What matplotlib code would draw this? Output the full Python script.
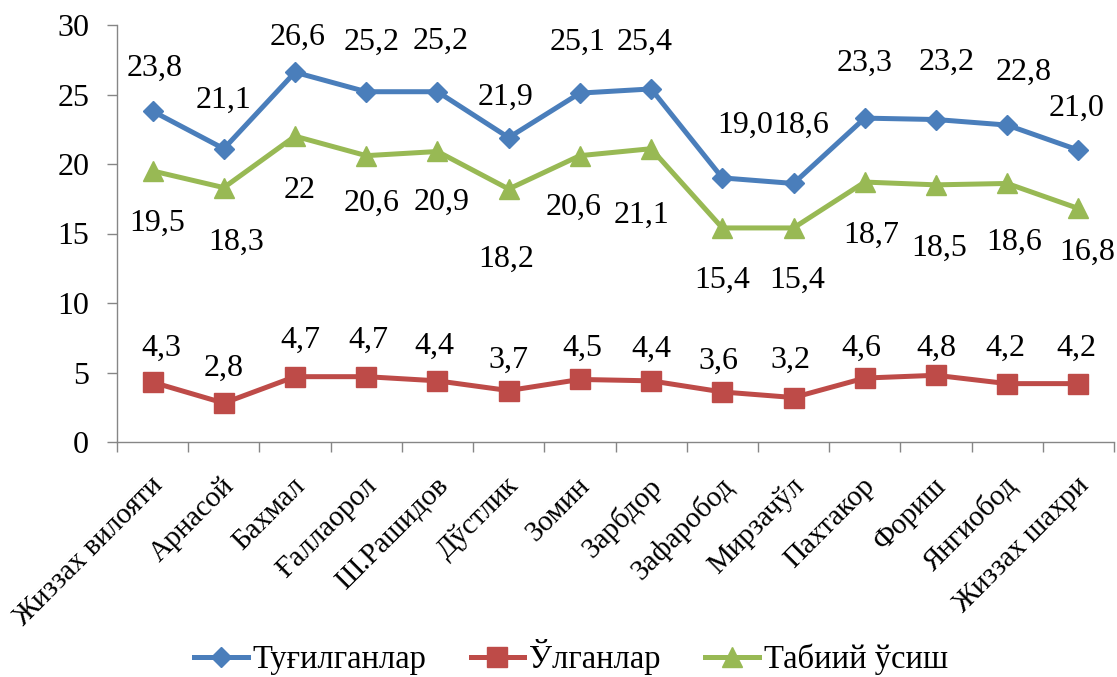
import matplotlib
matplotlib.use("Agg")
import matplotlib.pyplot as plt
import matplotlib.transforms as mtransforms
import numpy as np

categories = ["Жиззах вилояти", "Арнасой", "Бахмал", "Ғаллаорол", "Ш.Рашидов",
              "Дўстлик", "Зомин", "Зарбдор", "Зафаробод", "Мирзачўл",
              "Пахтакор", "Фориш", "Янгиобод", "Жиззах шахри"]
births = [23.8, 21.1, 26.6, 25.2, 25.2, 21.9, 25.1, 25.4, 19.0, 18.6, 23.3, 23.2, 22.8, 21.0]
deaths = [4.3, 2.8, 4.7, 4.7, 4.4, 3.7, 4.5, 4.4, 3.6, 3.2, 4.6, 4.8, 4.2, 4.2]
growth = [19.5, 18.3, 22, 20.6, 20.9, 18.2, 20.6, 21.1, 15.4, 15.4, 18.7, 18.5, 18.6, 16.8]
births_text = ["23,8", "21,1", "26,6", "25,2", "25,2", "21,9", "25,1", "25,4", "19,0", "18,6", "23,3", "23,2", "22,8", "21,0"]
deaths_text = ["4,3", "2,8", "4,7", "4,7", "4,4", "3,7", "4,5", "4,4", "3,6", "3,2", "4,6", "4,8", "4,2", "4,2"]
growth_text = ["19,5", "18,3", "22", "20,6", "20,9", "18,2", "20,6", "21,1", "15,4", "15,4", "18,7", "18,5", "18,6", "16,8"]
series_names = ["Туғилганлар", "Ўлганлар", "Табиий ўсиш"]
y_ticks = [0, 5, 10, 15, 20, 25, 30]

# label offsets in pixels (dx, dy up)
births_off = [(2, 43), (0, 48), (3, 35), (5, 49), (3, 50), (-3, 40), (-2, 51), (-6, 47),
              (23, 53), (8, 58), (0, 55), (11, 57), (16, 53), (-2, 42)]
growth_off = [(5, -52), (12, -55), (5, -54), (5, -48), (4, -51), (-2, -70), (-6, -52), (-10, -67),
              (0, -52), (4, -52), (6, -53), (3, -63), (7, -59), (9, -44)]
deaths_off = [(9, 34), (0, 35), (5, 36), (2, 36), (-3, 35), (0, 30), (2, 31), (0, 32),
              (-4, 31), (-3, 37), (-3, 30), (0, 27), (-2, 35), (-2, 35)]

plt.rcParams['font.family'] = ['Liberation Serif', 'DejaVu Serif']

fig = plt.figure(figsize=(11.17, 6.77), dpi=100)
ax = fig.add_axes([117/1117, 1-442/677, (1114-117)/1117, (442-25)/677])

blue = "#4A7EBB"
red = "#BE4B48"
green = "#98B954"
x = np.arange(len(categories))

l1, = ax.plot(x, births, color=blue, lw=3.6, marker='D', ms=10.5, label=series_names[0], zorder=3)
l2, = ax.plot(x, deaths, color=red, lw=3.6, marker='s', ms=14, label=series_names[1], zorder=3)
l3, = ax.plot(x, growth, color=green, lw=3.6, marker='^', ms=14, label=series_names[2], zorder=3)

for vals, texts, offs in [(births, births_text, births_off),
                          (growth, growth_text, growth_off),
                          (deaths, deaths_text, deaths_off)]:
    for xi, v, t, (dx, dy) in zip(x, vals, texts, offs):
        ax.annotate(t, (xi, v), xytext=(dx, dy), textcoords='offset pixels',
                    ha='center', va='center', fontsize=23, color='black')

ax.set_xlim(-0.5, len(categories) - 0.5)
ax.set_ylim(0, 30)
ax.set_yticks(y_ticks)
ax.tick_params(axis='y', labelsize=23, length=7, width=1, color='#868686', pad=13)

ax.set_xticks(np.arange(len(categories) + 1) - 0.5)
ax.set_xticklabels([])
ax.tick_params(axis='x', which='major', length=7, width=1, color='#868686')
ax.set_xticks(x, minor=True)
ax.set_xticklabels(categories, minor=True, rotation=45, ha='right', va='top',
                   rotation_mode='anchor', fontsize=21)
ax.tick_params(axis='x', which='minor', length=0, pad=22)
offset = mtransforms.ScaledTranslation(-3/100, 0, fig.dpi_scale_trans)
for lab in ax.get_xticklabels(minor=True):
    lab.set_transform(lab.get_transform() + offset)

for s in ['top', 'right']:
    ax.spines[s].set_visible(False)
for s in ['left', 'bottom']:
    ax.spines[s].set_color('#868686')
    ax.spines[s].set_linewidth(1)

fig.legend(handles=[l1, l2, l3], loc='center', bbox_to_anchor=(0.511, 1-657/677),
           ncol=3, frameon=False, fontsize=23.5, handlelength=1.65, handletextpad=0.15,
           columnspacing=1.35)

fig.savefig("out.png", dpi=100)
